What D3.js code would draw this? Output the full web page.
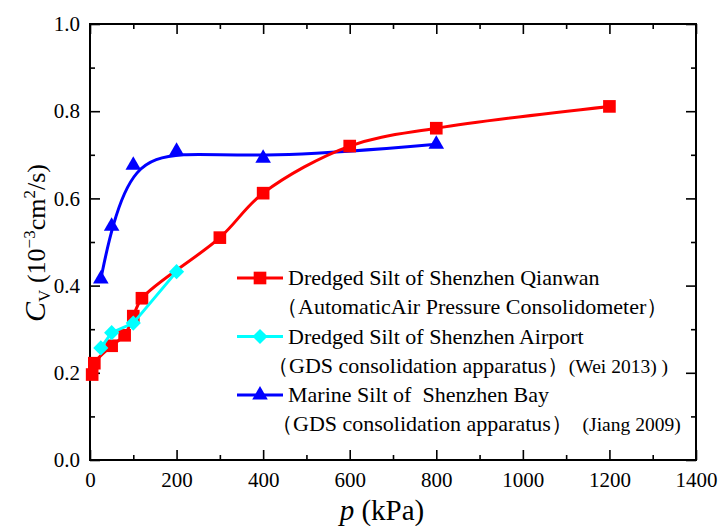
<!DOCTYPE html>
<html>
<head>
<meta charset="utf-8">
<script src="https://cdn.jsdelivr.net/npm/d3@7"></script>
<style>
  body { margin: 0; background: #fff; }
</style>
</head>
<body>
<script>
// pressure (kPa) and Cv (10^-3 cm2/s) for each series
const qianwanP = [5, 10, 50, 80, 100, 120, 300, 400, 600, 800, 1200];
const qianwanCv = [0.196, 0.222, 0.262, 0.286, 0.330, 0.371, 0.510, 0.612, 0.720, 0.761, 0.811];

const airportP = [25, 50, 100, 200];
const airportCv = [0.257, 0.292, 0.314, 0.432];

const bayP = [25, 50, 100, 200, 400, 800];
const bayCv = [0.415, 0.536, 0.676, 0.708, 0.692, 0.724];

const xTicks = [0, 200, 400, 600, 800, 1000, 1200, 1400];
const yTicks = [0.0, 0.2, 0.4, 0.6, 0.8, 1.0];

const SERIF = "'Liberation Serif', 'Times New Roman', serif";

const W = 719, H = 526;
const margin = {top: 24, right: 23, bottom: 66, left: 90};
const width = W - margin.left - margin.right,
      height = H - margin.top - margin.bottom;

const svg = d3.select("body").append("svg")
  .attr("width", W)
  .attr("height", H)
  .attr("font-family", SERIF);

const g = svg.append("g")
  .attr("transform", "translate(" + margin.left + "," + margin.top + ")");

const x = d3.scaleLinear().domain([0, 1400]).range([0, width]);
const y = d3.scaleLinear().domain([0, 1.0]).range([height, 0]);

const minorX = d3.range(100, 1400, 200);
const minorY = d3.range(0.1, 1.0, 0.2);

function styleAxis(sel) {
  sel.attr("font-family", SERIF);
  sel.select(".domain").remove();
  sel.selectAll("line").attr("stroke", "#000").attr("stroke-width", 1.6);
  sel.selectAll("text").attr("fill", "#000").attr("font-size", 21).attr("font-family", SERIF);
}

// bottom
g.append("g").attr("transform", "translate(0," + height + ")")
  .call(d3.axisBottom(x).tickValues(xTicks).tickSize(-10).tickPadding(12).tickFormat(d3.format("d")))
  .call(styleAxis);
g.append("g").attr("transform", "translate(0," + height + ")")
  .call(d3.axisBottom(x).tickValues(minorX).tickSize(-5).tickFormat(""))
  .call(styleAxis);
// top
g.append("g")
  .call(d3.axisTop(x).tickValues(xTicks).tickSize(-10).tickFormat(""))
  .call(styleAxis);
g.append("g")
  .call(d3.axisTop(x).tickValues(minorX).tickSize(-5).tickFormat(""))
  .call(styleAxis);
// left
g.append("g")
  .call(d3.axisLeft(y).tickValues(yTicks).tickSize(-10).tickPadding(10).tickFormat(d3.format(".1f")))
  .call(styleAxis);
g.append("g")
  .call(d3.axisLeft(y).tickValues(minorY).tickSize(-5).tickFormat(""))
  .call(styleAxis);
// right
g.append("g").attr("transform", "translate(" + width + ",0)")
  .call(d3.axisRight(y).tickValues(yTicks).tickSize(-10).tickFormat(""))
  .call(styleAxis);
g.append("g").attr("transform", "translate(" + width + ",0)")
  .call(d3.axisRight(y).tickValues(minorY).tickSize(-5).tickFormat(""))
  .call(styleAxis);

g.append("rect")
  .attr("width", width).attr("height", height)
  .attr("fill", "none").attr("stroke", "#000").attr("stroke-width", 2);

// diamond = square turned 45 degrees
const SQ = 160, DIA = 115, TRI = 105;

const series = [
  {p: bayP, cv: bayCv, color: "#0000ff", symbol: d3.symbolTriangle, size: TRI, rot: 0, curve: d3.curveBasis},
  {p: qianwanP, cv: qianwanCv, color: "#ff0000", symbol: d3.symbolSquare, size: SQ, rot: 0, curve: d3.curveCatmullRom.alpha(0.5)},
  {p: airportP, cv: airportCv, color: "#00ffff", symbol: d3.symbolSquare, size: DIA, rot: 45, curve: d3.curveLinear}
];

series.forEach(function (s) {
  const pts = s.p.map(function (d, i) { return [d, s.cv[i]]; });
  const line = d3.line()
    .x(function (d) { return x(d[0]); })
    .y(function (d) { return y(d[1]); })
    .curve(s.curve);
  g.append("path")
    .datum(pts)
    .attr("d", line)
    .attr("fill", "none")
    .attr("stroke", s.color)
    .attr("stroke-width", 3);
  g.append("g").selectAll("path")
    .data(pts)
    .enter()
    .append("path")
      .attr("d", d3.symbol().type(s.symbol).size(s.size))
      .attr("transform", function (d) {
        return "translate(" + x(d[0]) + "," + y(d[1]) + ") rotate(" + s.rot + ")";
      })
      .attr("fill", s.color);
});

// legend
const legend = [
  {color: "#ff0000", symbol: d3.symbolSquare, size: SQ, rot: 0, title: "Dredged Silt of Shenzhen Qianwan",
   sub: "（AutomaticAir Pressure Consolidometer）", note: "", subX: 276},
  {color: "#00ffff", symbol: d3.symbolSquare, size: DIA, rot: 45, title: "Dredged Silt of Shenzhen Airport",
   sub: "（GDS consolidation apparatus）", note: "(Wei 2013) )", subX: 267},
  {color: "#0000ff", symbol: d3.symbolTriangle, size: TRI, rot: 0, title: "Marine Silt of  Shenzhen Bay",
   sub: "（GDS consolidation apparatus）", note: "  (Jiang 2009)", subX: 271}
];

legend.forEach(function (l, i) {
  const yy = 278 + i * 58.5;
  svg.append("line")
    .attr("x1", 237).attr("x2", 283).attr("y1", yy).attr("y2", yy)
    .attr("stroke", l.color).attr("stroke-width", 3);
  svg.append("path")
    .attr("d", d3.symbol().type(l.symbol).size(l.size))
    .attr("transform", "translate(260," + yy + ") rotate(" + l.rot + ")")
    .attr("fill", l.color);
  svg.append("text")
    .attr("x", 288).attr("y", yy + 7)
    .attr("font-size", 22)
    .style("white-space", "pre")
    .text(l.title);
  const t = svg.append("text")
    .attr("x", l.subX).attr("y", yy + 36)
    .attr("font-size", 22)
    .style("white-space", "pre");
  t.append("tspan").text(l.sub);
  if (l.note) {
    t.append("tspan").attr("font-size", 19.5).text(l.note);
  }
});

// axis titles
const xl = svg.append("text")
  .attr("x", 382)
  .attr("y", 520)
  .attr("text-anchor", "middle")
  .attr("font-size", 29);
xl.append("tspan").attr("font-style", "italic").text("p");
xl.append("tspan").text(" (kPa)");

const yl = svg.append("text")
  .attr("transform", "translate(45," + 243 + ") rotate(-90)")
  .attr("text-anchor", "middle")
  .attr("font-size", 26);
yl.append("tspan").attr("font-style", "italic").attr("font-size", 30).text("C");
yl.append("tspan").attr("dy", 5).attr("font-size", 17).text("V");
yl.append("tspan").attr("dy", -5).text(" (10");
yl.append("tspan").attr("dy", -10).attr("font-size", 17).text("−3");
yl.append("tspan").attr("dy", 10).text("cm");
yl.append("tspan").attr("dy", -10).attr("font-size", 17).text("2");
yl.append("tspan").attr("dy", 10).text("/s)");
</script>
</body>
</html>
